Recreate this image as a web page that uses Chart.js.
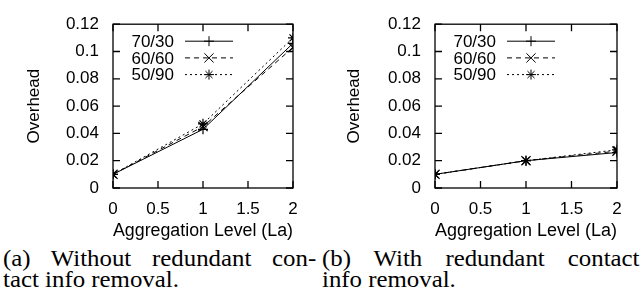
<!DOCTYPE html>
<html><head><meta charset="utf-8">
<script src="https://cdn.jsdelivr.net/npm/chart.js@4"></script>
<style>
body{margin:0;width:642px;height:298px;background:#fff;position:relative;overflow:hidden}
canvas{position:absolute;top:0}
.cap{position:absolute;font-family:"Liberation Serif",serif;font-size:23px;line-height:21px;color:#000;white-space:nowrap;transform-origin:0 0;transform:scaleX(1.08)}
.j{text-align:justify;text-align-last:justify;white-space:normal}
</style></head><body>
<canvas id="c1" width="320" height="245" style="left:0"></canvas>
<canvas id="c2" width="322" height="245" style="left:320px"></canvas>
<div class="cap j" id="cap1a" style="left:3px;top:248px;width:290px"></div>
<div class="cap" id="cap1b" style="left:3px;top:269px"></div>
<div class="cap j" id="cap2a" style="left:322px;top:248px;width:294px"></div>
<div class="cap" id="cap2b" style="left:322px;top:269px"></div>
<script>
const xValues = [0, 1, 2];
const seriesLabels = ['70/30', '60/60', '50/90'];
const a7030 = [0.010, 0.043, 0.106];
const a6060 = [0.010, 0.045, 0.103];
const a5090 = [0.010, 0.047, 0.110];
const b7030 = [0.010, 0.020, 0.026];
const b6060 = [0.010, 0.020, 0.027];
const b5090 = [0.010, 0.020, 0.028];
const xTicks = [0, 0.5, 1, 1.5, 2];
const xTickLabels = ['0', '0.5', '1', '1.5', '2'];
const yTicks = [0, 0.02, 0.04, 0.06, 0.08, 0.1, 0.12];
const yTickLabels = ['0', '0.02', '0.04', '0.06', '0.08', '0.1', '0.12'];
const xTitle = 'Aggregation Level (La)';
const yTitle = 'Overhead';
const captionA = ['(a) Without redundant con-', 'tact info removal.'];
const captionB = ['(b) With redundant contact', 'info removal.'];

document.getElementById('cap1a').textContent = captionA[0];
document.getElementById('cap1b').textContent = captionA[1];
document.getElementById('cap2a').textContent = captionB[0];
document.getElementById('cap2b').textContent = captionB[1];

const styles = [
  {dash: [], point: 'cross', r: 5},
  {dash: [5, 4], point: 'crossRot', r: 6.5},
  {dash: [2, 3], point: 'star', r: 5}
];
const FONT = 'Liberation Sans, Arial, sans-serif';

function marker(ctx, style, r, x, y) {
  ctx.beginPath();
  const c = r, d = r * Math.SQRT1_2;
  if (style === 'cross' || style === 'star') {
    ctx.moveTo(x - c, y); ctx.lineTo(x + c, y);
    ctx.moveTo(x, y - c); ctx.lineTo(x, y + c);
  }
  if (style === 'crossRot' || style === 'star') {
    ctx.moveTo(x - d, y - d); ctx.lineTo(x + d, y + d);
    ctx.moveTo(x - d, y + d); ctx.lineTo(x + d, y - d);
  }
  ctx.stroke();
}

const framePlugin = {
  id: 'frame',
  beforeDatasetsDraw(chart) {
    const {ctx, chartArea: a, scales} = chart;
    ctx.save();
    ctx.strokeStyle = '#000';
    ctx.lineWidth = 1.3;
    ctx.strokeRect(a.left, a.top, a.right - a.left, a.bottom - a.top);
    const L = 7;
    ctx.beginPath();
    xTicks.forEach(v => {
      const x = scales.x.getPixelForValue(v);
      ctx.moveTo(x, a.bottom); ctx.lineTo(x, a.bottom - L);
      ctx.moveTo(x, a.top); ctx.lineTo(x, a.top + L);
    });
    yTicks.forEach(v => {
      const y = scales.y.getPixelForValue(v);
      ctx.moveTo(a.left, y); ctx.lineTo(a.left + L, y);
      ctx.moveTo(a.right, y); ctx.lineTo(a.right - L, y);
    });
    ctx.stroke();
    ctx.restore();
  },
  afterDatasetsDraw(chart) {
    const {ctx, chartArea: a} = chart;
    ctx.save();
    ctx.font = '17px ' + FONT;
    ctx.fillStyle = '#000';
    ctx.textAlign = 'right';
    ctx.textBaseline = 'middle';
    chart.data.datasets.forEach((ds, i) => {
      const y = a.top + 17 + i * 16.7;
      ctx.fillText(ds.label, a.left + 61, y + 1);
      ctx.strokeStyle = '#000';
      ctx.lineWidth = 1;
      ctx.setLineDash(ds.borderDash);
      ctx.beginPath();
      ctx.moveTo(a.left + 72, y); ctx.lineTo(a.left + 120, y);
      ctx.stroke();
      ctx.setLineDash([]);
      marker(ctx, ds.pointStyle, ds.pointRadius, a.left + 96, y);
    });
    ctx.restore();
  }
};

function makeChart(id, series, plotLeft, plotRight) {
  const canvas = document.getElementById(id);
  return new Chart(canvas, {
    type: 'line',
    data: {
      datasets: series.map((vals, i) => ({
        label: seriesLabels[i],
        data: xValues.map((x, j) => ({x: x, y: vals[j]})),
        borderColor: '#000',
        borderWidth: 1,
        borderDash: styles[i].dash,
        pointStyle: styles[i].point,
        pointRadius: styles[i].r,
        pointBorderColor: '#000',
        pointBorderWidth: 1.2,
        pointBackgroundColor: '#000',
        tension: 0,
        fill: false
      }))
    },
    options: {
      responsive: false,
      animation: false,
      events: [],
      layout: {padding: {left: 0, top: 15, right: canvas.width - plotRight, bottom: 0}},
      plugins: {legend: {display: false}, tooltip: {enabled: false}},
      scales: {
        x: {
          type: 'linear', min: 0, max: 2,
          grid: {display: false, drawTicks: false},
          border: {display: false},
          afterBuildTicks: s => { s.ticks = xTicks.map(v => ({value: v})); },
          afterFit: s => { s.height = 57; },
          ticks: {color: '#000', font: {family: FONT, size: 17}, padding: 11, maxRotation: 0,
                  callback: (v, i) => xTickLabels[i]},
          title: {display: true, text: xTitle, color: '#000', font: {family: FONT, size: 18}, padding: {top: 0, bottom: 3}}
        },
        y: {
          type: 'linear', min: 0, max: 0.12,
          grid: {display: false, drawTicks: false},
          border: {display: false},
          afterBuildTicks: s => { s.ticks = yTicks.map(v => ({value: v})); },
          afterFit: s => { s.width = plotLeft; },
          ticks: {color: '#000', font: {family: FONT, size: 17}, padding: 14,
                  callback: (v, i) => yTickLabels[i]},
          title: {display: true, text: yTitle, color: '#000', font: {family: FONT, size: 17}, padding: {top: 24, bottom: 0}}
        }
      }
    },
    plugins: [framePlugin]
  });
}

makeChart('c1', [a7030, a6060, a5090], 113, 293);
makeChart('c2', [b7030, b6060, b5090], 115, 297);
</script>
</body></html>
